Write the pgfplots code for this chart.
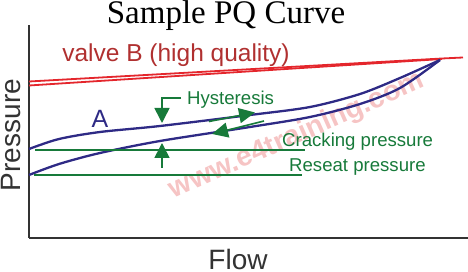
\documentclass[border=0pt]{standalone}
\usepackage{fontspec}
\setmainfont{Liberation Sans}
\newfontfamily\seriffont{Liberation Serif}
\usepackage{pgfplots}
\pgfplotsset{compat=1.18}
\usetikzlibrary{arrows.meta}
\definecolor{cblue}{HTML}{2E2A85}
\definecolor{cred}{HTML}{E4262C}
\definecolor{ctext}{HTML}{B03030}
\definecolor{cgreen}{HTML}{177A3A}
\definecolor{cpink}{HTML}{F6C4C4}
\definecolor{caxis}{HTML}{333333}
\begin{document}
\begin{tikzpicture}
\useasboundingbox (0pt,0pt) rectangle (468pt,272pt);
\node[rotate=24, text=cpink, font=\bfseries\fontsize{28.5}{28.5}\selectfont] at (297pt,136pt) {www.e4training.com};
\begin{axis}[at={(29pt,34pt)}, anchor=south west,
  width=439pt, height=213pt, scale only axis,
  xmin=0, xmax=439, ymin=0, ymax=213,
  axis x line=bottom, axis y line=left,
  axis line style={-, line width=2pt, draw=caxis},
  xtick=\empty, ytick=\empty, clip=false]
% red double line (valve B)
\addplot[cred, line width=1.8pt] coordinates {(0,156.5) (413,179.5) (434,180.5)};
\addplot[cred, line width=1.8pt] coordinates {(0,152.5) (413,179)};
% blue curves (valve A)
\addplot[cblue, line width=2.3pt, smooth] coordinates {
(0,89) (30,99) (71,106) (131,112) (221,123) (281,131) (331,144) (371,160) (411,178)};
\addplot[cblue, line width=2.3pt, smooth] coordinates {
(0,63) (30,74) (71,85) (131,97) (221,111) (281,121) (331,134) (371,150) (411,178)};
% green pressure lines
\addplot[cgreen, line width=1.4pt] coordinates {(6,88) (276,88)};
\addplot[cgreen, line width=1.4pt] coordinates {(5,63) (273,63)};
% hysteresis arrows
\addplot[cgreen, line width=1.6pt, -{Triangle[length=15pt,width=15pt]}] coordinates {(152,140) (133,140) (133,115)};
\addplot[cgreen, line width=1.6pt, -{Triangle[length=15pt,width=15pt]}] coordinates {(133,70) (133,95)};
\addplot[cgreen, line width=1.6pt, -{Triangle[length=16pt,width=15pt]}] coordinates {(180,116.5) (226,125.5)};
\addplot[cgreen, line width=1.6pt, -{Triangle[length=16pt,width=15pt]}] coordinates {(235,117) (183,104)};
\end{axis}
\node[anchor=base, font=\seriffont\fontsize{33}{33}\selectfont] at (226pt,248pt) {Sample PQ Curve};
\node[anchor=base, text=ctext, font=\fontsize{24.5}{24.5}\selectfont] at (176pt,210pt) {valve B (high quality)};
\node[anchor=base, text=cblue, font=\fontsize{25}{25}\selectfont] at (100pt,144pt) {A};
\node[anchor=base west, inner sep=0pt, text=cgreen, font=\fontsize{18.6}{18.6}\selectfont] at (187pt,167pt) {Hysteresis};
\node[anchor=base west, inner sep=0pt, text=cgreen, font=\fontsize{18.6}{18.6}\selectfont] at (282pt,125pt) {Cracking pressure};
\node[anchor=base west, inner sep=0pt, text=cgreen, font=\fontsize{18.6}{18.6}\selectfont] at (289pt,100pt) {Reseat pressure};
\node[anchor=base, inner sep=0pt, text=caxis, font=\fontsize{28}{28}\selectfont] at (238pt,2pt) {Flow};
\node[anchor=base, inner sep=0pt, rotate=90, text=caxis, font=\fontsize{28}{28}\selectfont] at (20pt,137pt) {Pressure};
\end{tikzpicture}
\end{document}
